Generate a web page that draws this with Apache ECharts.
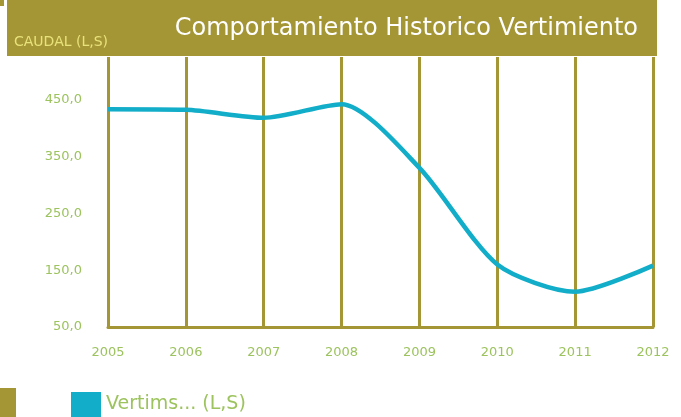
<!DOCTYPE html>
<html>
<head>
<meta charset="utf-8">
<script src="https://cdn.jsdelivr.net/npm/echarts@6/dist/echarts.min.js"></script>
<style>
  html, body { margin: 0; padding: 0; background: #ffffff; }
  #chart { width: 681px; height: 417px; }
</style>
</head>
<body>
<div id="chart"></div>
<script>
// Annual discharge (L/s) of the effluent
const years = ['2005', '2006', '2007', '2008', '2009', '2010', '2011', '2012'];
const vertimientos = [433, 432, 418, 442, 330, 160, 112, 158];
const seriesName = 'Vertims... (L,S)';
const titleText = 'Comportamiento Historico Vertimiento';
const axisTitle = 'CAUDAL (L,S)';

const GOLD = '#a49535';
const GREEN = '#9cc35e';
const CYAN = '#12adc8';
const FONT = 'DejaVu Sans';

const chart = echarts.init(document.getElementById('chart'), null, { renderer: 'canvas' });

chart.setOption({
  animation: false,
  textStyle: { fontFamily: FONT },
  grid: { left: 108, right: 28, top: 57, height: 270 },
  legend: {
    left: 66, top: 387,
    icon: 'rect', itemWidth: 30, itemHeight: 25, itemGap: 10,
    textStyle: { color: GREEN, fontSize: 19, fontFamily: FONT },
    data: [seriesName]
  },
  xAxis: {
    type: 'category',
    data: years,
    boundaryGap: false,
    axisLine: { lineStyle: { color: GOLD, width: 3 } },
    axisTick: { show: false },
    axisLabel: { color: GREEN, fontSize: 13, margin: 19, fontFamily: FONT },
    splitLine: { show: true, lineStyle: { color: GOLD, width: 3 } }
  },
  yAxis: {
    type: 'value',
    min: 50, max: 525, interval: 100,
    axisLine: { show: false },
    axisTick: { show: false },
    splitLine: { show: false },
    axisLabel: {
      color: GREEN, fontSize: 13, margin: 26, fontFamily: FONT,
      showMaxLabel: false,
      formatter: v => v.toFixed(1).replace('.', ',')
    }
  },
  series: [{
    name: seriesName,
    type: 'line',
    data: vertimientos,
    smooth: 0.25,
    symbol: 'none',
    itemStyle: { color: CYAN },
    lineStyle: { color: CYAN, width: 4.5 }
  }],
  graphic: [
    { type: 'rect', z: 100, shape: { x: 7, y: 0, width: 650, height: 56 }, style: { fill: GOLD } },
    { type: 'rect', z: 100, shape: { x: 0, y: 0, width: 4, height: 6 }, style: { fill: GOLD } },
    { type: 'rect', z: 100, shape: { x: 0, y: 388, width: 16, height: 29 }, style: { fill: GOLD } },
    { type: 'text', z: 101, style: { text: titleText, x: 638, y: 41, textAlign: 'right', textVerticalAlign: 'bottom', fill: '#ffffff', font: '24px "DejaVu Sans"' } },
    { type: 'text', z: 101, style: { text: axisTitle, x: 14, y: 49, textVerticalAlign: 'bottom', fill: '#e8e27a', font: '14px "DejaVu Sans"' } }
  ]
});
</script>
</body>
</html>
